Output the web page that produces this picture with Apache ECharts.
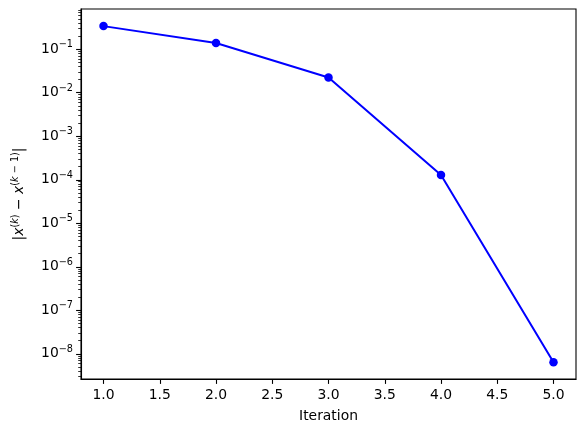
<!DOCTYPE html>
<html>
<head>
<meta charset="utf-8">
<script src="https://cdn.jsdelivr.net/npm/echarts@6/dist/echarts.min.js"></script>
<style>html,body{margin:0;padding:0;background:#fff}#c{width:585px;height:432px}</style>
</head>
<body>
<div id="c"></div>
<script>
// Data
const iterations = [1, 2, 3, 4, 5];
const errors = [0.34, 0.139, 0.0225, 0.000128, 6.4e-9];
const xTicks = [1.0, 1.5, 2.0, 2.5, 3.0, 3.5, 4.0, 4.5, 5.0];
const yExponents = [-8, -7, -6, -5, -4, -3, -2, -1];

const yMajor = yExponents.map(e => Math.pow(10, e));
const yMinor = [];
for (let e = -9; e <= 0; e++) {
  for (let m = 2; m <= 9; m++) yMinor.push(m * Math.pow(10, e));
}
const yMin = Math.pow(10, -8.58);
const yMax = Math.pow(10, -0.075);
const FS = 13.9;
const FONT = 'DejaVu Sans';

const chart = echarts.init(document.getElementById('c'), null, {renderer: 'canvas'});
chart.setOption({
  animation: false,
  backgroundColor: '#fff',
  grid: {left: 81, right: 9, top: 9, bottom: 53, show: true, borderColor: '#000', borderWidth: 1.1, backgroundColor: 'transparent'},
  xAxis: {
    type: 'value', min: 0.8, max: 5.2,
    name: 'Iteration', nameLocation: 'middle', nameGap: 30,
    nameTextStyle: {fontFamily: FONT, fontSize: FS, color: '#000'},
    axisLine: {show: true, lineStyle: {color: '#000', width: 1.1}},
    axisTick: {show: true, inside: false, length: 4.9, lineStyle: {color: '#000', width: 1.1}, customValues: xTicks},
    axisLabel: {customValues: xTicks, margin: 9, fontFamily: FONT, fontSize: FS, color: '#000', formatter: v => v.toFixed(1)},
    splitLine: {show: false}
  },
  yAxis: [{
    type: 'log', logBase: 10, min: yMin, max: yMax,
    name: '{n||}{i|x}{s|(}{si|k}{s|)}{n| − }{i|x}{s|(}{si|k}{s| − 1)}{n||}',
    nameLocation: 'middle', nameGap: 52, nameRotate: 90,
    nameTextStyle: {
      fontFamily: FONT, fontSize: FS, color: '#000',
      rich: {
        n: {fontFamily: FONT, fontSize: FS, color: '#000'},
        i: {fontFamily: FONT, fontSize: FS, fontStyle: 'italic', color: '#000'},
        s: {fontFamily: FONT, fontSize: 9.7, color: '#000', padding: [0, 0, 9, 0]},
        si: {fontFamily: FONT, fontSize: 9.7, fontStyle: 'italic', color: '#000', padding: [0, 0, 9, 0]}
      }
    },
    axisLine: {show: true, lineStyle: {color: '#000', width: 1.1}},
    axisTick: {show: true, inside: false, length: 4.9, lineStyle: {color: '#000', width: 1.1}, customValues: yMajor},
    axisLabel: {
      customValues: yMajor, margin: 8, fontFamily: FONT, fontSize: FS, color: '#000',
      formatter: v => '{b|10}{s|−' + Math.abs(Math.round(Math.log10(v))) + '}',
      rich: {
        b: {fontFamily: FONT, fontSize: FS, color: '#000'},
        s: {fontFamily: FONT, fontSize: 9.7, color: '#000', padding: [0, 0, 9, 0]}
      }
    },
    splitLine: {show: false},
    minorTick: {show: false}
  }, {
    type: 'log', logBase: 10, min: yMin, max: yMax, position: 'left',
    axisLine: {show: false},
    axisTick: {show: true, inside: false, length: 2.8, lineStyle: {color: '#000', width: 0.8}, customValues: yMinor},
    axisLabel: {show: false},
    splitLine: {show: false}
  }],
  series: [{
    type: 'line',
    data: iterations.map((x, i) => [x, errors[i]]),
    symbol: 'circle', symbolSize: 8.5,
    lineStyle: {color: '#0000ff', width: 2},
    itemStyle: {color: '#0000ff'},
    clip: false
  }]
});
</script>
</body>
</html>
